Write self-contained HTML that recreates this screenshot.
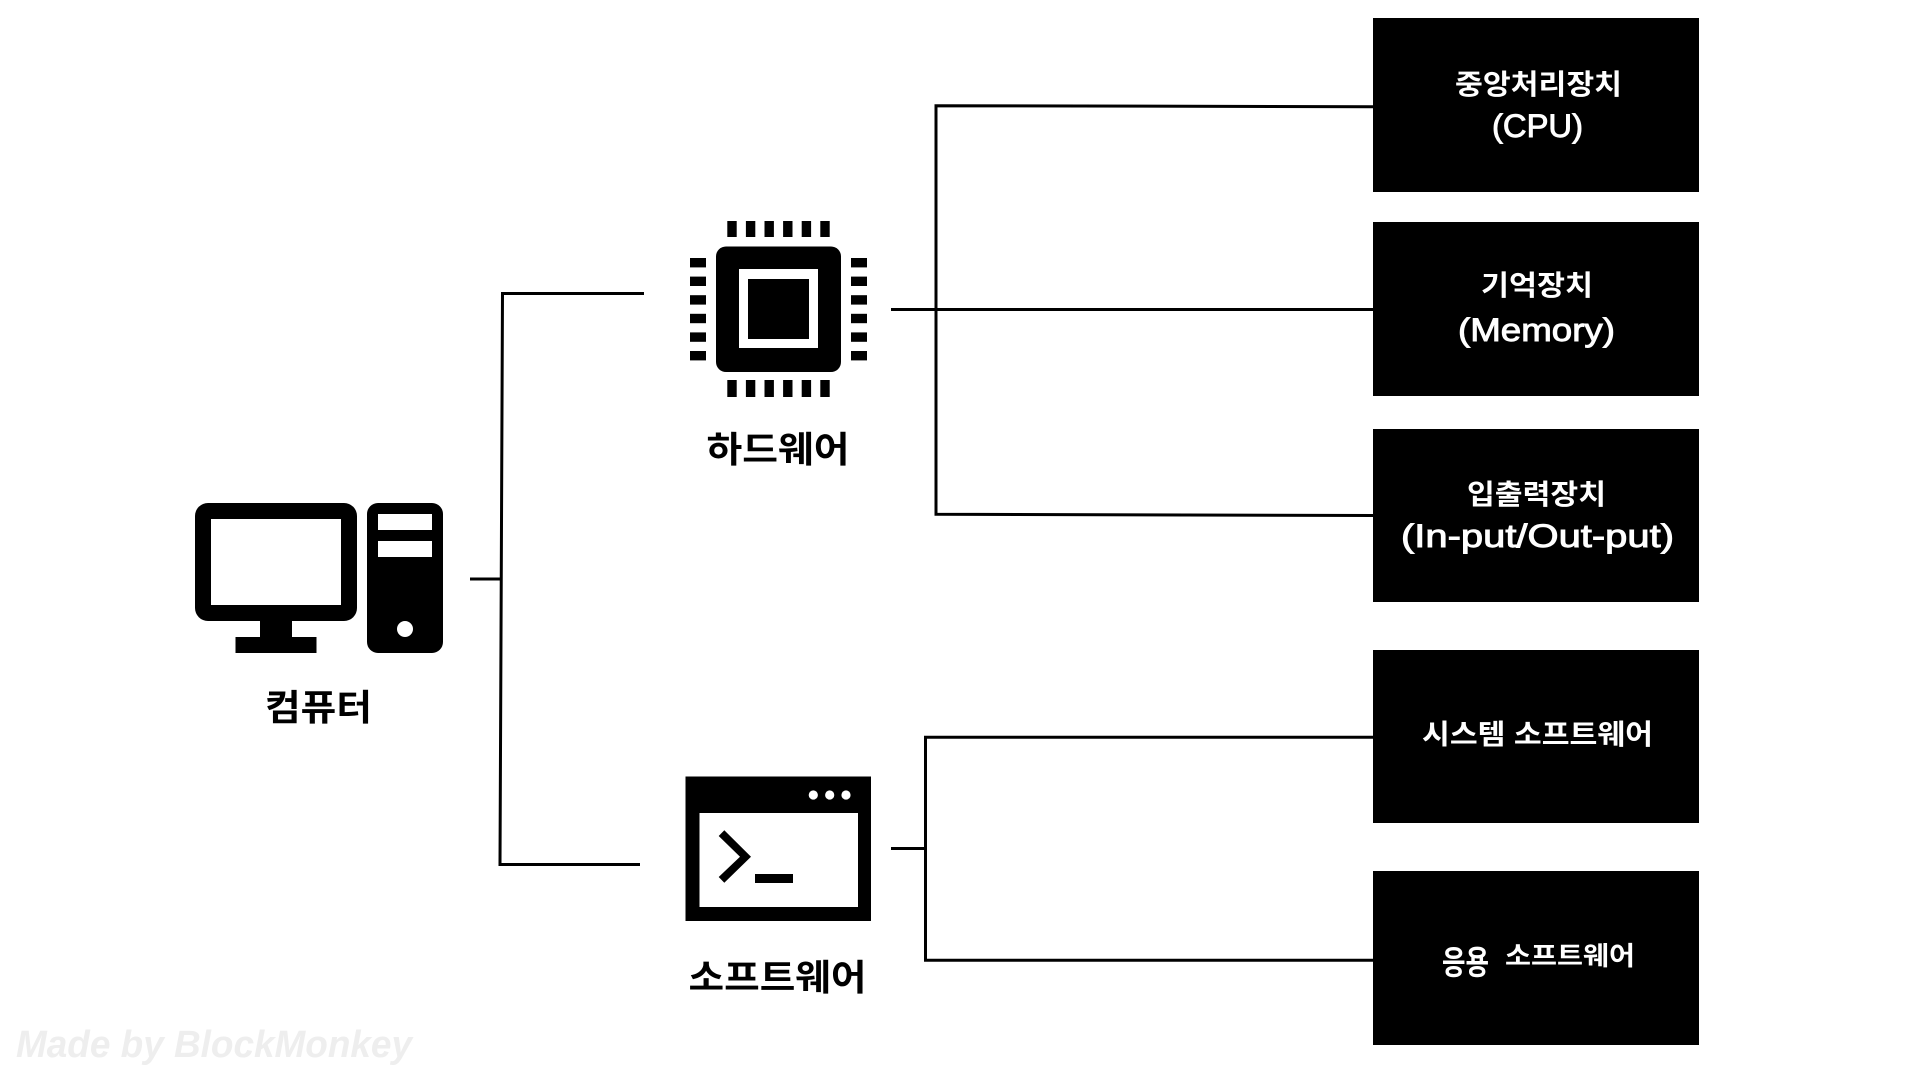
<!DOCTYPE html>
<html lang="ko">
<head>
<meta charset="utf-8">
<title>컴퓨터 구성</title>
<style>
html,body{margin:0;padding:0;background:#fff;width:1913px;height:1071px;overflow:hidden}
svg{display:block}
.k{font-family:"Liberation Sans","Noto Sans CJK KR",sans-serif;font-weight:700}
.l{font-size:36px;fill:#000}
.w{font-size:28px;fill:#fff}
.e{font-size:32px;fill:#fff;font-family:"Liberation Sans",sans-serif;font-weight:400;stroke:#fff;stroke-width:.9}
.ln{stroke:#000;stroke-width:3;fill:none}
</style>
</head>
<body>
<svg xmlns="http://www.w3.org/2000/svg" width="1913" height="1071" viewBox="0 0 1913 1071">
<rect width="1913" height="1071" fill="#fff"/>

<!-- connectors -->
<path class="ln" d="M644 293.5H502.5L500 864.5H640"/>
<path class="ln" d="M470 579H501"/>
<path class="ln" d="M1373 106.7L936 105.7V514.3L1373 515.5"/>
<path class="ln" d="M891 309.5H1373"/>
<path class="ln" d="M1373 737.3H925.5V960.3H1373"/>
<path class="ln" d="M891 848.5H925.5"/>

<!-- computer icon -->
<rect x="195" y="503" width="162" height="118" rx="13" fill="#000"/>
<rect x="211" y="519" width="130" height="86" fill="#fff"/>
<rect x="260" y="620" width="32" height="18" fill="#000"/>
<rect x="235.5" y="637" width="81" height="16" fill="#000"/>
<rect x="367" y="503" width="76" height="150" rx="11" fill="#000"/>
<rect x="378" y="514" width="54" height="16" fill="#fff"/>
<rect x="378" y="541" width="54" height="16" fill="#fff"/>
<circle cx="405" cy="629" r="8" fill="#fff"/>
<text class="k l" x="265" y="720" textLength="107" lengthAdjust="spacingAndGlyphs">컴퓨터</text>

<!-- chip icon -->
<rect x="716" y="246.5" width="125" height="125.5" rx="10" fill="#000"/>
<rect x="739" y="269" width="79" height="79" fill="#fff"/>
<rect x="748" y="279" width="61" height="60" fill="#000"/>
<g fill="#000">
<rect x="727.3" y="221" width="9.4" height="16"/><rect x="745.9" y="221" width="9.4" height="16"/><rect x="764.5" y="221" width="9.4" height="16"/><rect x="783.1" y="221" width="9.4" height="16"/><rect x="801.7" y="221" width="9.4" height="16"/><rect x="820.3" y="221" width="9.4" height="16"/>
<rect x="727.3" y="380" width="9.4" height="17"/><rect x="745.9" y="380" width="9.4" height="17"/><rect x="764.5" y="380" width="9.4" height="17"/><rect x="783.1" y="380" width="9.4" height="17"/><rect x="801.7" y="380" width="9.4" height="17"/><rect x="820.3" y="380" width="9.4" height="17"/>
<rect x="690" y="258" width="16" height="9.4"/><rect x="690" y="276.6" width="16" height="9.4"/><rect x="690" y="295.2" width="16" height="9.4"/><rect x="690" y="313.8" width="16" height="9.4"/><rect x="690" y="332.4" width="16" height="9.4"/><rect x="690" y="351" width="16" height="9.4"/>
<rect x="851" y="258" width="16" height="9.4"/><rect x="851" y="276.6" width="16" height="9.4"/><rect x="851" y="295.2" width="16" height="9.4"/><rect x="851" y="313.8" width="16" height="9.4"/><rect x="851" y="332.4" width="16" height="9.4"/><rect x="851" y="351" width="16" height="9.4"/>
</g>
<text class="k l" x="706.5" y="462" textLength="143" lengthAdjust="spacingAndGlyphs">하드웨어</text>

<!-- terminal icon -->
<rect x="685.5" y="776.5" width="185.5" height="144.5" fill="#000"/>
<rect x="699.5" y="813" width="158.5" height="94" fill="#fff"/>
<circle cx="813.3" cy="795" r="4.6" fill="#fff"/>
<circle cx="829.7" cy="795" r="4.6" fill="#fff"/>
<circle cx="846" cy="795" r="4.6" fill="#fff"/>
<polygon points="718.7,836 724.3,830.3 751,856.7 724.3,882.7 718.7,877 740,856.7" fill="#000"/>
<rect x="755" y="874" width="38" height="9" fill="#000"/>
<text class="k l" x="688.5" y="990" textLength="178" lengthAdjust="spacingAndGlyphs">소프트웨어</text>

<!-- boxes -->
<rect x="1373" y="18" width="326" height="174" fill="#000"/>
<rect x="1373" y="222" width="326" height="174" fill="#000"/>
<rect x="1373" y="429" width="326" height="173" fill="#000"/>
<rect x="1373" y="650" width="326" height="173" fill="#000"/>
<rect x="1373" y="871" width="326" height="174" fill="#000"/>

<text class="k w" x="1455" y="94" textLength="167" lengthAdjust="spacingAndGlyphs">중앙처리장치</text>
<text class="e" x="1492" y="137" textLength="91" lengthAdjust="spacingAndGlyphs">(CPU)</text>

<text class="k w" x="1481" y="295" textLength="112" lengthAdjust="spacingAndGlyphs">기억장치</text>
<text class="e" x="1458" y="341" textLength="157" lengthAdjust="spacingAndGlyphs">(Memory)</text>

<text class="k w" x="1467" y="504" textLength="139" lengthAdjust="spacingAndGlyphs">입출력장치</text>
<text class="e" x="1401" y="547" textLength="273" lengthAdjust="spacingAndGlyphs">(In-put/Out-put)</text>

<text class="k w" x="1422" y="744" textLength="231" lengthAdjust="spacingAndGlyphs">시스템 소프트웨어</text>
<text class="k" font-size="33" fill="#fff" x="1442" y="974" textLength="47" lengthAdjust="spacingAndGlyphs">응용</text>
<text class="k" font-size="26" fill="#fff" x="1505" y="965" textLength="130" lengthAdjust="spacingAndGlyphs">소프트웨어</text>

<!-- watermark -->
<text x="16" y="1057" font-family="'Liberation Sans',sans-serif" font-weight="700" font-style="italic" font-size="38" fill="#eeeeee" textLength="396" lengthAdjust="spacingAndGlyphs">Made by BlockMonkey</text>
</svg>
</body>
</html>
